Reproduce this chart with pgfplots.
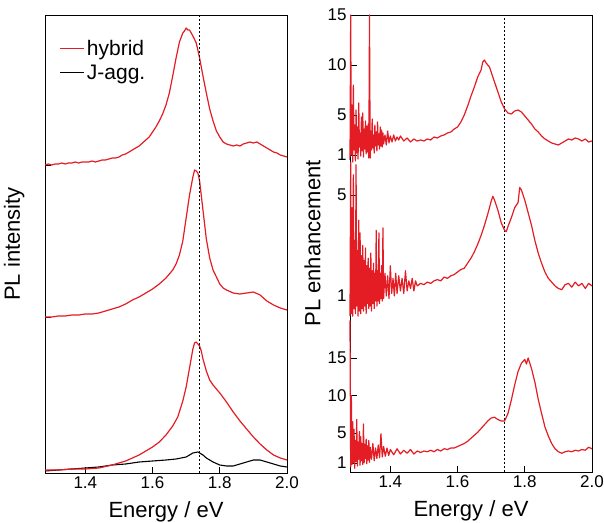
\documentclass[border=0pt]{standalone}
\usepackage{fontspec}
\setmainfont{Liberation Sans}
\usepackage{pgfplots}
\pgfplotsset{compat=1.18}
\definecolor{plred}{RGB}{228,28,36}

\pgfplotsset{
  spec/.style={
    scale only axis, width=242bp, xmin=1.28, xmax=2.0,
    xtick={1.4,1.6,1.8,2.0}, xtick pos=bottom, ytick pos=left,
    tick align=inside, major tick length=6bp,
    tick style={black, line width=0.9bp},
    axis line style={line width=0.9bp},
    ticklabel style={font=\fontsize{17bp}{19bp}\selectfont},
    label style={font=\fontsize{22bp}{25bp}\selectfont},
    /pgf/number format/assume math mode=true,
    /pgf/number format/fixed, /pgf/number format/fixed zerofill,
    /pgf/number format/precision=1,
    xlabel style={at={(axis description cs:0.5,0)}, anchor=base, yshift=-44bp},
  },
  inset/.style={
    scale only axis, width=242bp, xmin=1.28, xmax=2.0,
    axis x line=none, axis y line*=left, clip=false,
    tick align=inside, major tick length=7bp,
    tick style={black, line width=0.9bp},
    axis line style={line width=0.9bp},
    ticklabel style={font=\fontsize{17bp}{19bp}\selectfont},
    /pgf/number format/assume math mode=true,
  },
  red line/.style={plred, line width=1.2bp, line join=round},
  guide/.style={black, line width=1.2bp, dash pattern=on 2bp off 2bp},
}

\begin{document}
\begin{tikzpicture}
\useasboundingbox (0,0) rectangle (604bp,523bp);

% left panel: PL spectra
\begin{axis}[spec, at={(45bp,50bp)}, anchor=south west, height=458bp,
    ymin=0, ymax=4.58, ytick={1.56,3.08}, yticklabels={},
    xlabel={Energy / eV}, ylabel={PL intensity},
    ylabel style={at={(axis description cs:-0.07,0.5)}, anchor=south},
    legend style={at={(axis description cs:0.06,0.95)}, anchor=north west,
      draw=none, fill=none, inner sep=0pt, row sep=4bp,
      font=\fontsize{21bp}{23bp}\selectfont},
    legend cell align=left,
    legend image code/.code={\draw[#1] (0bp,0bp) -- (24bp,0bp);},
]
\addplot[red line] coordinates {
(1.28,3.08) (1.29,3.09) (1.30,3.08) (1.31,3.09) (1.32,3.09) (1.33,3.10) (1.34,3.09)
(1.35,3.10) (1.36,3.10) (1.37,3.11) (1.38,3.10) (1.39,3.11) (1.40,3.11) (1.41,3.11)
(1.42,3.12) (1.43,3.11) (1.44,3.12) (1.45,3.13) (1.46,3.13) (1.47,3.14) (1.48,3.15)
(1.49,3.15) (1.50,3.16) (1.51,3.18) (1.52,3.19) (1.53,3.21) (1.54,3.23) (1.55,3.25)
(1.56,3.27) (1.57,3.30) (1.58,3.33) (1.59,3.36) (1.60,3.41) (1.61,3.46) (1.62,3.52)
(1.63,3.59) (1.64,3.68) (1.65,3.80) (1.66,3.97) (1.67,4.15) (1.68,4.31) (1.69,4.40)
(1.695,4.42) (1.70,4.45) (1.705,4.43) (1.71,4.43) (1.72,4.37) (1.73,4.30) (1.74,4.15)
(1.75,3.97) (1.76,3.80) (1.77,3.64) (1.78,3.52) (1.79,3.42) (1.80,3.36) (1.81,3.31)
(1.82,3.29) (1.83,3.28) (1.84,3.27) (1.85,3.28) (1.86,3.27) (1.87,3.29) (1.88,3.30)
(1.89,3.31) (1.90,3.30) (1.91,3.31) (1.92,3.29) (1.93,3.27) (1.94,3.25) (1.95,3.23)
(1.96,3.21) (1.97,3.20) (1.98,3.18) (1.99,3.17) (2.00,3.16)
};
\addlegendentry{hybrid}
\addplot[black, line width=1.1bp] coordinates {
(1.28,0.02) (1.32,0.03) (1.36,0.04) (1.40,0.05) (1.44,0.06) (1.48,0.08) (1.52,0.09)
(1.56,0.11) (1.60,0.12) (1.64,0.13) (1.67,0.14) (1.70,0.16) (1.71,0.18) (1.72,0.20)
(1.735,0.21) (1.75,0.18) (1.76,0.15) (1.78,0.11) (1.80,0.08) (1.82,0.07) (1.84,0.07)
(1.86,0.09) (1.88,0.11) (1.90,0.13) (1.92,0.13) (1.94,0.11) (1.96,0.09) (1.98,0.07)
(2.00,0.06)
};
\addlegendentry{J-agg.}
\addplot[red line, forget plot] coordinates {
(1.28,1.56) (1.30,1.56) (1.32,1.57) (1.34,1.57) (1.36,1.58) (1.38,1.58) (1.40,1.59)
(1.42,1.59) (1.44,1.60) (1.46,1.62) (1.48,1.64) (1.50,1.66) (1.52,1.69) (1.54,1.73)
(1.56,1.76) (1.58,1.80) (1.60,1.84) (1.62,1.89) (1.64,1.95) (1.66,2.03) (1.67,2.09)
(1.68,2.18) (1.69,2.32) (1.70,2.55) (1.71,2.78) (1.72,2.96) (1.725,3.03) (1.73,3.02)
(1.735,3.00) (1.74,2.92) (1.75,2.63) (1.76,2.34) (1.77,2.15) (1.78,2.03) (1.79,1.96)
(1.80,1.89) (1.81,1.85) (1.82,1.83) (1.84,1.80) (1.86,1.79) (1.88,1.80) (1.90,1.81)
(1.92,1.78) (1.94,1.72) (1.96,1.68) (1.98,1.65) (2.00,1.63)
};
\addplot[red line, forget plot] coordinates {
(1.28,0.03) (1.32,0.03) (1.36,0.04) (1.40,0.04) (1.44,0.05) (1.48,0.08) (1.52,0.12)
(1.54,0.15) (1.56,0.18) (1.58,0.22) (1.60,0.26) (1.62,0.31) (1.64,0.38) (1.66,0.47)
(1.675,0.56) (1.69,0.72) (1.70,0.86) (1.71,1.05) (1.72,1.24) (1.725,1.30) (1.73,1.31)
(1.74,1.27) (1.745,1.22) (1.75,1.14) (1.76,1.02) (1.77,0.93) (1.78,0.88) (1.80,0.80)
(1.82,0.71) (1.84,0.61) (1.86,0.52) (1.88,0.44) (1.90,0.36) (1.92,0.29) (1.94,0.23)
(1.96,0.18) (1.98,0.15) (2.00,0.13)
};
\addplot[guide, forget plot] coordinates {(1.74,0) (1.74,4.58)};
\end{axis}

% right panel frame
\begin{axis}[spec, at={(350bp,51bp)}, anchor=south west, height=457bp,
    ymin=0, ymax=1, ytick=\empty,
    xlabel={Energy / eV}, ylabel={PL enhancement},
    ylabel style={at={(axis description cs:-0.107,0.5)}, anchor=south},
]
\addplot[guide] coordinates {(1.74,0) (1.74,1)};
\end{axis}

% right panel, top
\begin{axis}[inset, at={(350bp,358bp)}, anchor=south west, height=150bp,
    ymin=0, ymax=15, ytick={1,5,10,15}]
\addplot[red line] coordinates {
(1.280,0.5) (1.282,15) (1.284,1.0) (1.286,6.0) (1.288,0.3) (1.290,8.0) (1.292,1.5)
(1.294,4.0) (1.296,0.4) (1.298,5.5) (1.300,1.2) (1.302,3.8) (1.304,0.6) (1.306,6.2)
(1.308,1.8) (1.310,3.2) (1.312,0.9) (1.314,4.8) (1.316,1.4) (1.318,5.2) (1.320,0.8)
(1.322,3.6) (1.324,1.6) (1.326,4.4) (1.328,1.1) (1.330,3.9) (1.332,1.3) (1.334,4.1)
(1.336,0.7) (1.338,15) (1.340,0.7) (1.342,3.4) (1.344,1.5) (1.346,4.6) (1.348,1.7)
(1.350,3.0) (1.352,1.2) (1.354,4.0) (1.356,1.9) (1.358,3.3) (1.360,1.4) (1.362,4.3)
(1.364,2.0) (1.366,3.1) (1.368,1.6) (1.370,3.8) (1.372,1.9) (1.374,3.5) (1.376,1.8)
(1.378,3.2) (1.380,2.1) (1.384,3.0) (1.388,2.0) (1.392,3.4) (1.396,2.2) (1.400,2.9)
(1.405,2.3) (1.410,3.0) (1.415,2.4) (1.420,2.8) (1.425,2.5) (1.430,2.9) (1.440,2.4)
(1.450,2.7) (1.460,2.3) (1.470,2.6) (1.480,2.4) (1.490,2.5) (1.50,2.4) (1.51,2.6)
(1.52,2.5) (1.53,2.8) (1.54,2.7) (1.55,2.9) (1.56,3.0) (1.57,3.2) (1.58,3.3)
(1.59,3.6) (1.60,3.8) (1.61,4.3) (1.62,5.0) (1.63,5.9) (1.64,6.9) (1.65,7.8)
(1.66,8.8) (1.67,9.5) (1.675,10.3) (1.68,10.5) (1.685,10.2) (1.69,10.0) (1.695,9.8)
(1.70,9.3) (1.71,8.3) (1.72,7.3) (1.73,6.3) (1.74,5.6) (1.75,5.2) (1.76,5.1)
(1.77,5.4) (1.78,5.5) (1.79,5.3) (1.80,4.9) (1.81,4.5) (1.82,4.1) (1.83,3.6)
(1.84,3.3) (1.85,2.9) (1.86,2.6) (1.87,2.4) (1.88,2.2) (1.89,2.1) (1.90,2.0)
(1.91,2.2) (1.92,2.4) (1.93,2.6) (1.94,2.5) (1.95,2.7) (1.96,2.6) (1.97,2.4)
(1.98,2.6) (1.99,2.3) (2.00,2.4)
};
\end{axis}

% right panel, middle
\begin{axis}[inset, at={(350bp,201.75bp)}, anchor=south west, height=164.1bp,
    ymin=0, ymax=6.5, ytick={1,5}]
\addplot[red line] coordinates {
(1.280,0.2) (1.282,6.3) (1.284,0.3) (1.286,4.5) (1.288,0.2) (1.290,5.8) (1.292,0.5)
(1.294,3.2) (1.296,0.3) (1.298,6.2) (1.300,0.6) (1.302,2.8) (1.304,0.2) (1.306,4.0)
(1.308,0.4) (1.310,3.5) (1.312,0.3) (1.314,2.6) (1.316,0.5) (1.318,3.0) (1.320,0.4)
(1.322,2.4) (1.324,0.6) (1.326,2.9) (1.328,0.3) (1.330,2.2) (1.332,0.7) (1.334,2.5)
(1.336,0.5) (1.338,2.1) (1.340,0.6) (1.342,2.7) (1.344,0.4) (1.346,2.0) (1.348,0.7)
(1.350,2.3) (1.352,0.5) (1.354,1.9) (1.356,0.8) (1.358,3.6) (1.360,0.6) (1.362,2.0)
(1.364,0.8) (1.366,3.5) (1.368,0.7) (1.370,1.9) (1.372,0.9) (1.374,2.2) (1.376,0.8)
(1.378,3.7) (1.380,0.9) (1.384,1.9) (1.388,1.0) (1.392,1.8) (1.396,0.9) (1.400,2.2)
(1.404,1.1) (1.408,1.7) (1.412,1.0) (1.416,1.9) (1.420,1.1) (1.425,1.8) (1.430,1.2)
(1.435,1.7) (1.440,1.1) (1.445,2.0) (1.450,1.2) (1.455,1.6) (1.460,1.3) (1.465,1.7)
(1.470,1.2) (1.475,1.6) (1.480,1.4) (1.49,1.5) (1.50,1.45) (1.51,1.55) (1.52,1.5)
(1.53,1.6) (1.54,1.65) (1.55,1.6) (1.56,1.75) (1.57,1.7) (1.58,1.8) (1.59,1.85)
(1.60,1.95) (1.61,2.05) (1.62,2.1) (1.63,2.3) (1.64,2.5) (1.65,2.75) (1.66,3.05)
(1.67,3.4) (1.68,3.8) (1.69,4.25) (1.70,4.75) (1.705,4.95) (1.71,4.8) (1.72,4.4)
(1.73,3.9) (1.74,3.6) (1.745,3.55) (1.75,3.75) (1.76,4.1) (1.77,4.5) (1.78,4.7)
(1.785,5.3) (1.79,5.2) (1.80,4.8) (1.81,4.3) (1.82,3.8) (1.83,3.2) (1.84,2.7)
(1.85,2.3) (1.86,1.95) (1.87,1.7) (1.88,1.55) (1.89,1.4) (1.90,1.3) (1.91,1.25)
(1.92,1.45) (1.93,1.5) (1.94,1.35) (1.95,1.55) (1.96,1.4) (1.97,1.5) (1.98,1.3)
(1.99,1.5) (2.00,1.4)
};
\end{axis}

% right panel, bottom
\begin{axis}[inset, at={(350bp,51bp)}, anchor=south west, height=151.5bp,
    ymin=-0.2, ymax=20, ytick={1,5,10,15}]
\addplot[red line] coordinates {
(1.280,20) (1.282,0.5) (1.284,10) (1.286,0.8) (1.288,6.5) (1.290,1.0) (1.292,5.5)
(1.294,0.3) (1.296,4.0) (1.298,1.2) (1.300,6.8) (1.302,0.6) (1.304,3.8) (1.306,1.5)
(1.308,5.2) (1.310,0.7) (1.312,4.5) (1.314,1.3) (1.316,3.6) (1.318,0.8) (1.320,6.2)
(1.322,1.0) (1.324,3.5) (1.326,1.6) (1.328,4.2) (1.330,0.9) (1.332,3.3) (1.334,1.4)
(1.336,4.0) (1.338,1.1) (1.340,3.1) (1.344,1.5) (1.348,3.6) (1.352,1.3) (1.356,3.0)
(1.360,1.6) (1.364,3.4) (1.368,1.7) (1.372,4.9) (1.376,1.8) (1.380,3.2) (1.385,1.9)
(1.390,3.0) (1.395,2.0) (1.400,2.8) (1.41,2.1) (1.42,2.9) (1.43,2.2) (1.44,2.7)
(1.45,2.3) (1.46,2.8) (1.47,2.2) (1.48,2.6) (1.49,2.4) (1.50,2.6) (1.51,2.5)
(1.52,2.7) (1.53,2.5) (1.54,2.8) (1.55,2.6) (1.56,2.9) (1.57,2.8) (1.58,3.0)
(1.59,3.0) (1.60,3.2) (1.61,3.4) (1.62,3.6) (1.63,3.9) (1.64,4.3) (1.65,4.7)
(1.66,5.1) (1.67,5.6) (1.68,6.1) (1.69,6.6) (1.70,7.0) (1.71,7.1) (1.72,6.8)
(1.73,6.6) (1.74,6.6) (1.75,7.6) (1.76,9.4) (1.77,11.4) (1.78,13.2) (1.79,14.3)
(1.80,14.8) (1.805,14.2) (1.81,15.0) (1.82,13.6) (1.83,11.8) (1.84,9.5) (1.85,7.6)
(1.86,5.8) (1.87,4.6) (1.88,3.6) (1.89,2.9) (1.90,2.5) (1.91,2.3) (1.92,2.5)
(1.93,2.6) (1.94,2.5) (1.95,2.7) (1.96,2.6) (1.97,2.8) (1.98,2.7) (1.99,3.1)
(2.00,2.9)
};
\end{axis}
\end{tikzpicture}
\end{document}
